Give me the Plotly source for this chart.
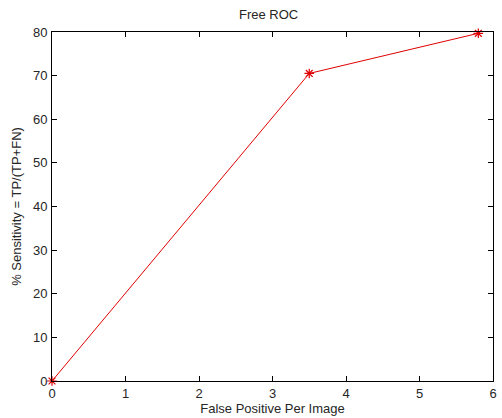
import plotly.graph_objects as go

fppi = [0, 3.5, 5.8]
sensitivity = [0, 70.5, 79.7]
x_ticks = [0, 1, 2, 3, 4, 5, 6]
y_ticks = [0, 10, 20, 30, 40, 50, 60, 70, 80]

FONT = "Liberation Sans, Arial"
TXT = "#262626"

fig = go.Figure()
fig.add_trace(go.Scatter(
    x=fppi, y=sensitivity, mode="lines+markers",
    line=dict(color="#e00000", width=1),
    marker=dict(symbol="asterisk-open", size=8, color="#e00000",
                line=dict(color="#e00000", width=1.2)),
    cliponaxis=False, showlegend=False,
))

axis_common = dict(
    showline=True, linecolor="black", linewidth=1, mirror="ticks",
    ticks="inside", ticklen=5, tickcolor="black", showgrid=False,
    zeroline=False, tickfont=dict(family=FONT, size=13, color=TXT),
)
fig.update_xaxes(range=[0, 6], tickvals=x_ticks, ticklabelstandoff=0,
                 title=dict(text="False Positive Per Image", standoff=0,
                            font=dict(family=FONT, size=13, color=TXT)),
                 **axis_common)
fig.update_yaxes(range=[0, 80], tickvals=y_ticks, ticklabelstandoff=1,
                 title=dict(text="% Sensitivity = TP/(TP+FN)", standoff=8,
                            font=dict(family=FONT, size=13, color=TXT)),
                 **axis_common)
fig.update_layout(
    width=502, height=418,
    margin=dict(l=52, r=5, t=32, b=37),
    paper_bgcolor="white", plot_bgcolor="white",
    title=dict(text="Free ROC", x=0.535, xanchor="center", y=0.965, yanchor="middle",
               font=dict(family=FONT, size=13, color=TXT)),
)
fig.write_html("out.html", config={"displayModeBar": False},
               post_script="document.body.style.margin='0';document.body.style.overflow='hidden';")
